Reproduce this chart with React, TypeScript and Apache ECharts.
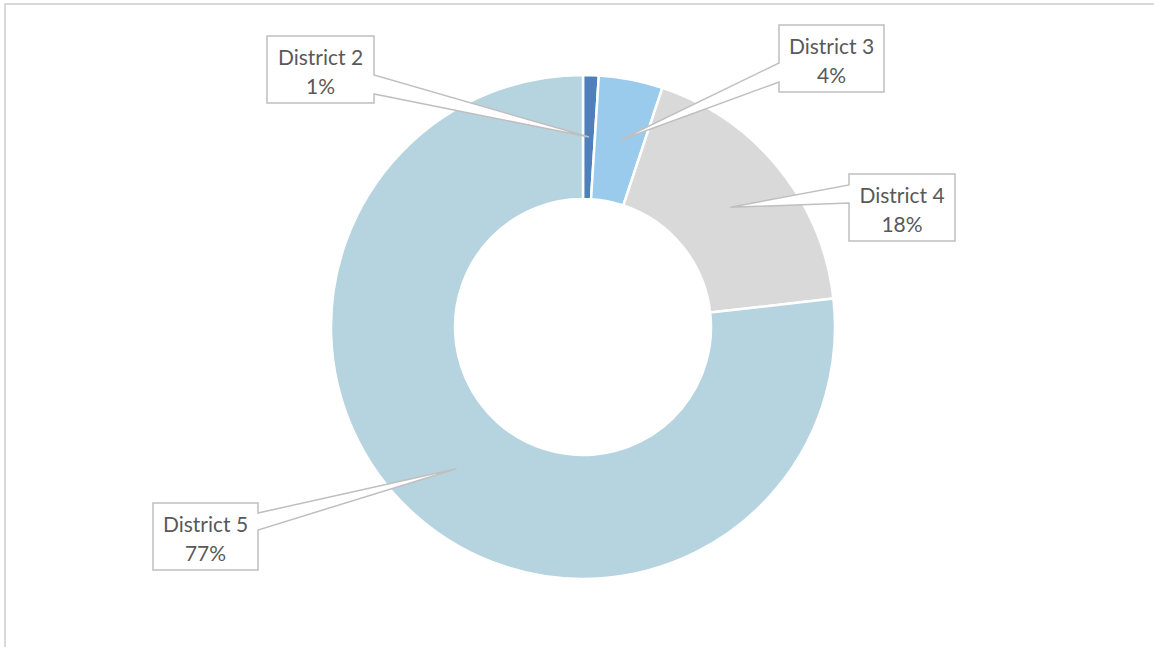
import React, { useEffect, useRef } from "react";
import * as echarts from "echarts";

const categories = ["District 2", "District 3", "District 4", "District 5"];
const values = [1.0, 4.1, 18.1, 76.8];
const colors = ["#4f80bc", "#9bcbec", "#d9d9d9", "#b6d4df"];

// callout boxes: [left, top, right, bottom], pointer side, pointer base y range
const boxes = [
  { l: 267, t: 36, r: 374, b: 103, side: "right", y1: 75, y2: 94 },
  { l: 779, t: 25, r: 884, b: 92, side: "left", y1: 63, y2: 82 },
  { l: 849, t: 174, r: 955, b: 241, side: "left", y1: 185, y2: 203 },
  { l: 153, t: 503, r: 258, b: 570, side: "right", y1: 513, y2: 530 },
];

const CX = 583;
const CY = 327;
const R_IN = 128;
const R_OUT = 252;

export default function App() {
  const ref = useRef<HTMLDivElement>(null);
  useEffect(() => {
    if (!ref.current) return;
    const chart = echarts.init(ref.current, null, { renderer: "svg" });
    const total = values.reduce((a, b) => a + b, 0);
    let cum = 0;
    const graphics: any[] = [
      {
        type: "rect",
        shape: { x: 5, y: 4, width: 1200, height: 700 },
        style: { fill: "none", stroke: "#d9d9d9", lineWidth: 2 },
        silent: true,
        z: 0,
      },
    ];
    values.forEach((v, i) => {
      const mid = ((cum + v / 2) / total) * Math.PI * 2;
      cum += v;
      const rm = (R_IN + R_OUT) / 2;
      const tip = [CX + rm * Math.sin(mid), CY - rm * Math.cos(mid)];
      const bx = boxes[i];
      let pts: number[][];
      if (bx.side === "right") {
        pts = [
          [bx.l, bx.t], [bx.r, bx.t], [bx.r, bx.y1], tip, [bx.r, bx.y2], [bx.r, bx.b], [bx.l, bx.b],
        ];
      } else {
        pts = [
          [bx.l, bx.t], [bx.r, bx.t], [bx.r, bx.b], [bx.l, bx.b], [bx.l, bx.y2], tip, [bx.l, bx.y1],
        ];
      }
      graphics.push({
        type: "polygon",
        shape: { points: pts },
        style: { fill: "#ffffff", stroke: "#bfbfbf", lineWidth: 1.5 },
        z: 100,
        silent: true,
      });
      const pct = Math.round((v / total) * 100) + "%";
      graphics.push({
        type: "text",
        x: (bx.l + bx.r) / 2,
        y: (bx.t + bx.b) / 2 + 1,
        z: 101,
        silent: true,
        style: {
          text: categories[i] + "\n" + pct,
          fill: "#595959",
          font: '21px Lato, "Open Sans", sans-serif',
          lineHeight: 29,
          align: "center",
          verticalAlign: "middle",
        },
      });
    });

    chart.setOption({
      animation: false,
      backgroundColor: "#ffffff",
      graphic: graphics,
      series: [
        {
          type: "pie",
          center: [CX, CY],
          radius: [R_IN, R_OUT],
          startAngle: 90,
          clockwise: true,
          label: { show: false },
          labelLine: { show: false },
          itemStyle: { borderColor: "#ffffff", borderWidth: 2.5 },
          emphasis: { disabled: true },
          data: categories.map((c, i) => ({
            name: c,
            value: values[i],
            itemStyle: { color: colors[i] },
          })),
        },
      ],
    });
    return () => chart.dispose();
  }, []);
  return (
    <div
      ref={ref}
      style={{ position: "absolute", left: 0, top: 0, width: 1154, height: 647 }}
    />
  );
}
